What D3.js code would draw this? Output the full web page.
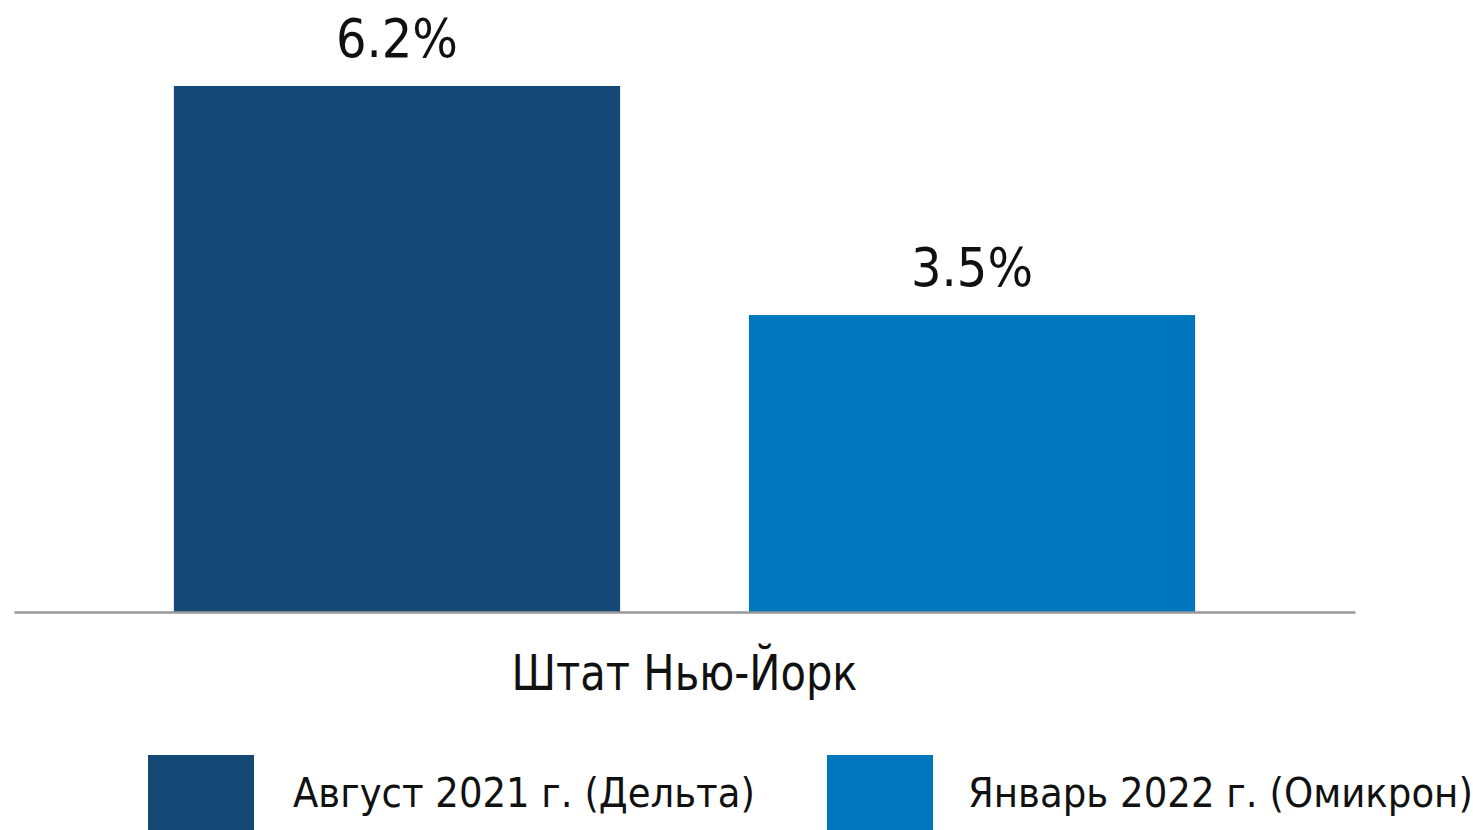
<!DOCTYPE html>
<html>
  <head>
    <meta charset="utf-8">
    <script src="https://d3js.org/d3.v7.min.js"></script>
    <style>
      body { margin: 0; background: #fff; }
      text { font-family: "DejaVu Sans", Verdana, sans-serif; fill: #111; }
    </style>
  </head>
  <body>
    <script>

    // data
    var categories = ["Штат Нью-Йорк"];
    var seriesNames = ["Август 2021 г. (Дельта)", "Январь 2022 г. (Омикрон)"];
    var seriesValues = [6.2, 3.5];
    var seriesColors = ["#154975", "#0077bd"];

    var w = 1483, h = 830;
    var plotLeft = 14, plotRight = 1355, baseY = 612;

    var svg = d3.select("body").append("svg")
      .attr("width", w)
      .attr("height", h);

    // category scale (one group) and series scale inside it
    var x0 = d3.scaleBand()
      .domain(categories)
      .range([plotLeft, plotRight]);

    var x1 = d3.scaleBand()
      .domain(seriesNames)
      .range([0, x0.bandwidth()])
      .paddingInner(0.224)
      .paddingOuter(0.278);

    var y = d3.scaleLinear()
      .domain([0, 7])
      .range([baseY, baseY - 7 * 84.84]);

    var fmt = function(v) { return v.toFixed(1) + "%"; };

    var group = svg.selectAll("g.cat")
      .data(categories)
      .enter().append("g")
      .attr("class", "cat")
      .attr("transform", function(d) { return "translate(" + x0(d) + ",0)"; });

    // bars
    group.selectAll("rect")
      .data(seriesNames.map(function(s, i) { return { name: s, value: seriesValues[i], color: seriesColors[i] }; }))
      .enter().append("rect")
      .attr("x", function(d) { return x1(d.name); })
      .attr("y", function(d) { return y(d.value); })
      .attr("width", x1.bandwidth())
      .attr("height", function(d) { return baseY - y(d.value); })
      .attr("fill", function(d) { return d.color; });

    // value labels
    group.selectAll("text.val")
      .data(seriesNames.map(function(s, i) { return { name: s, value: seriesValues[i] }; }))
      .enter().append("text")
      .attr("class", "val")
      .attr("x", function(d) { return x1(d.name) + x1.bandwidth() / 2; })
      .attr("y", function(d) { return y(d.value) - 29; })
      .attr("text-anchor", "middle")
      .attr("font-size", 54)
      .attr("textLength", 122)
      .attr("lengthAdjust", "spacingAndGlyphs")
      .text(function(d) { return fmt(d.value); });

    // x axis
    var xAxis = d3.axisBottom(x0).tickSize(0).tickPadding(0);
    var axisG = svg.append("g")
      .attr("transform", "translate(0," + baseY + ")")
      .call(xAxis);
    axisG.select(".domain")
      .attr("stroke", "#999")
      .attr("stroke-width", 2.5);
    axisG.selectAll(".tick text")
      .attr("y", 78)
      .attr("dy", 0)
      .attr("font-size", 50)
      .attr("font-family", "DejaVu Sans, sans-serif")
      .attr("fill", "#111")
      .attr("textLength", 346)
      .attr("lengthAdjust", "spacingAndGlyphs");

    // legend
    var legendX = [148, 827];
    var legendTextX = [145, 141];
    var legendW = [462, 505];
    var legend = svg.selectAll("g.legend")
      .data(seriesNames)
      .enter().append("g")
      .attr("class", "legend")
      .attr("transform", function(d, i) { return "translate(" + legendX[i] + ",755)"; });

    legend.append("rect")
      .attr("width", 106)
      .attr("height", 75)
      .attr("fill", function(d, i) { return seriesColors[i]; });

    // squeeze the legend labels horizontally to the narrow look of the original
    legend.append("text")
      .attr("font-size", 40)
      .text(function(d) { return d; })
      .attr("transform", function(d, i) {
        var sx = legendW[i] / this.getComputedTextLength();
        return "translate(" + legendTextX[i] + ",52) scale(" + sx + ",1)";
      });

    </script>
  </body>
</html>
